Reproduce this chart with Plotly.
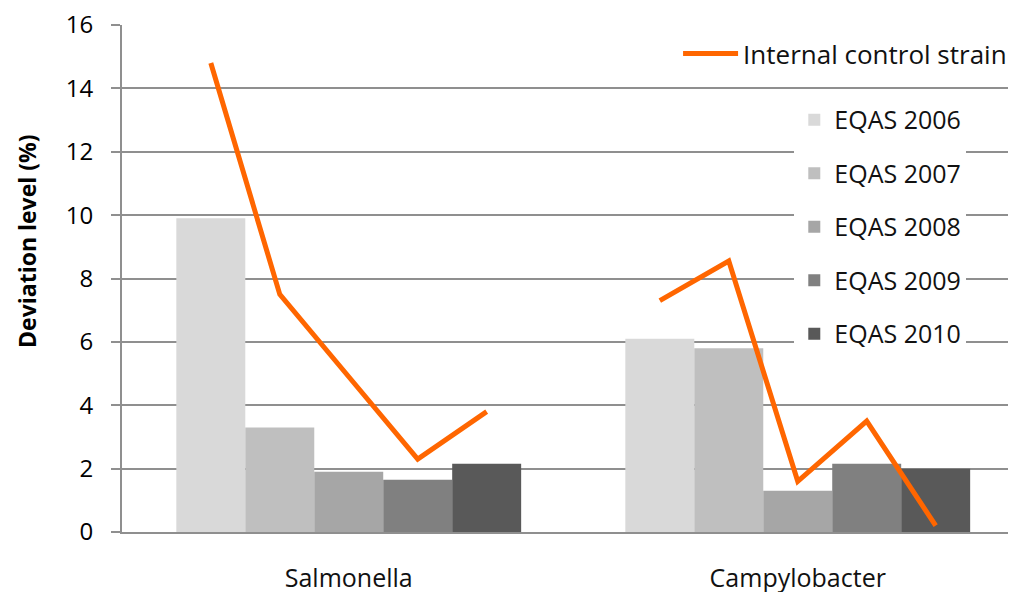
import plotly.graph_objects as go

categories = ["Salmonella", "Campylobacter"]
series_names = ["EQAS 2006", "EQAS 2007", "EQAS 2008", "EQAS 2009", "EQAS 2010"]
bar_colors = ["#d9d9d9", "#bfbfbf", "#a6a6a6", "#808080", "#595959"]

# bar heights, one list per EQAS round: [Salmonella, Campylobacter]
eqas_2006 = [9.9, 6.1]
eqas_2007 = [3.3, 5.8]
eqas_2008 = [1.9, 1.3]
eqas_2009 = [1.65, 2.15]
eqas_2010 = [2.15, 2.0]
bar_values = [eqas_2006, eqas_2007, eqas_2008, eqas_2009, eqas_2010]

# internal control strain, one value per EQAS round
control_salmonella = [14.8, 7.5, 4.9, 2.3, 3.8]
control_campylobacter = [7.3, 8.55, 1.6, 3.5, 0.2]

bargap = 0.232
n = len(series_names)
bar_w = (1 - bargap) / n

fig = go.Figure()

for name, vals, color in zip(series_names, bar_values, bar_colors):
    fig.add_trace(go.Bar(
        x=list(range(len(categories))),
        y=vals,
        name=name,
        marker=dict(color=color, line=dict(width=0)),
        legend="legend",
        legendgroup=name,
    ))

# line points sit over the bar centres, with a gap between the two groups
line_x, line_y = [], []
for i, vals in enumerate([control_salmonella, control_campylobacter]):
    for j, v in enumerate(vals):
        line_x.append(i + (j - (n - 1) / 2) * bar_w)
        line_y.append(v)
    line_x.append(None)
    line_y.append(None)

fig.add_trace(go.Scatter(
    x=line_x,
    y=line_y,
    mode="lines",
    name="Internal control strain",
    line=dict(color="#ff6600", width=5),
    legend="legend2",
    connectgaps=False,
))

grid = "#8f8f8f"
# page body has an 8px margin, so the figure is drawn 8px smaller
fig.update_layout(
    width=1008,
    height=584,
    barmode="group",
    bargap=bargap,
    bargroupgap=0,
    plot_bgcolor="white",
    paper_bgcolor="white",
    font=dict(family="Open Sans", color="#111111"),
    margin=dict(l=114, r=0, t=17, b=60, autoexpand=False),
    showlegend=True,
    legend=dict(
        x=0.752, y=0.858, xanchor="left", yanchor="top",
        bgcolor="white", font=dict(size=25, color="#111111"),
        tracegroupgap=18, itemsizing="constant",
    ),
    legend2=dict(
        x=0.622, y=0.99, xanchor="left", yanchor="top",
        orientation="h", bgcolor="rgba(0,0,0,0)",
        font=dict(size=26, color="#111111"), itemwidth=55,
    ),
    annotations=[dict(
        text="<b>Deviation level (%)</b>",
        xref="paper", yref="paper",
        x=-0.1063, y=0.574, xanchor="center", yanchor="middle",
        textangle=-90,
        showarrow=False, font=dict(size=23, color="#000000"),
    )],
)

fig.update_xaxes(
    range=[-0.505, -0.505 + 894 / 449],
    tickvals=list(range(len(categories))),
    ticktext=categories,
    tickfont=dict(size=25, color="#111111"),
    showgrid=False, zeroline=False,
    showline=True, linecolor=grid, linewidth=2,
    ticks="", ticklabelstandoff=23, ticklabeloverflow="allow",
)
fig.update_yaxes(
    range=[0, 16], dtick=2,
    tickfont=dict(size=24, color="#000000"),
    showgrid=True, gridcolor=grid, gridwidth=2,
    zeroline=False,
    showline=True, linecolor=grid, linewidth=2,
    ticks="outside", ticklen=9, tickcolor=grid, tickwidth=2,
    ticklabelstandoff=13, ticklabeloverflow="allow",
)

fig.write_html("out.html")
